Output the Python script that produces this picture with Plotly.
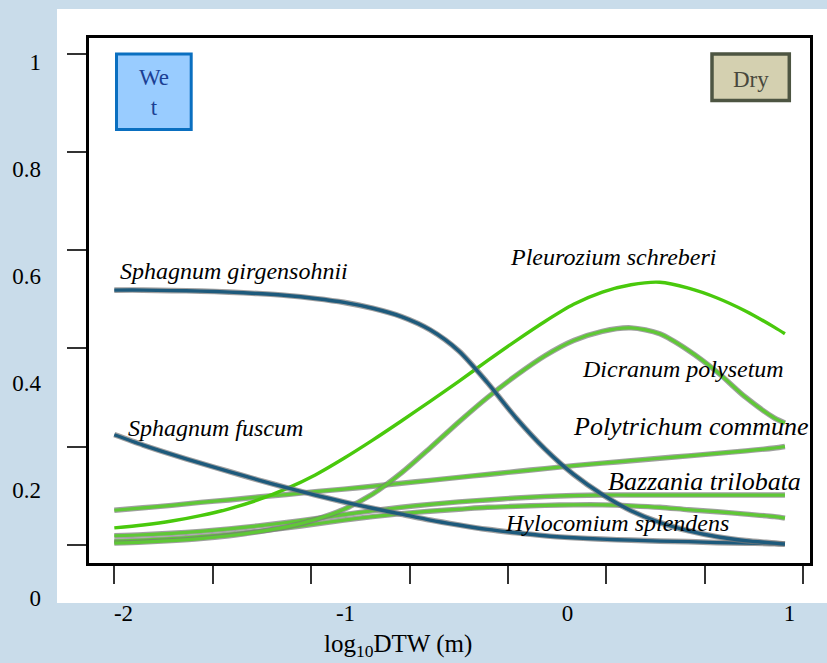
import plotly.graph_objects as go

# log10 depth-to-water-table sample positions (0.125 steps, last point at the curve end)
x_pts = [-2.0, -1.875, -1.75, -1.625, -1.5, -1.375, -1.25, -1.125, -1.0, -0.875, -0.75, -0.625,
         -0.5, -0.375, -0.25, -0.125, 0.0, 0.125, 0.25, 0.375, 0.5, 0.625, 0.75, 0.875, 0.92]

# fitted occurrence probabilities per species
sph_girgensohnii = [0.519, 0.519, 0.518, 0.517, 0.515, 0.512, 0.508, 0.502, 0.494, 0.482, 0.465, 0.438,
                    0.395, 0.330, 0.258, 0.195, 0.143, 0.102, 0.069, 0.045, 0.028, 0.016, 0.008, 0.003, 0.001]
sph_fuscum = [0.224, 0.203, 0.184, 0.166, 0.149, 0.132, 0.116, 0.101, 0.087, 0.074, 0.062, 0.050,
              0.040, 0.031, 0.024, 0.018, 0.014, 0.011, 0.009, 0.007, 0.006, 0.004, 0.003, 0.002, 0.001]
pleurozium = [0.034, 0.040, 0.048, 0.059, 0.073, 0.091, 0.114, 0.142, 0.176, 0.213, 0.252, 0.292,
              0.333, 0.375, 0.416, 0.455, 0.490, 0.515, 0.530, 0.535, 0.523, 0.503, 0.476, 0.443, 0.430]
dicranum = [0.003, 0.005, 0.008, 0.012, 0.018, 0.026, 0.036, 0.051, 0.072, 0.103, 0.146, 0.197,
            0.250, 0.300, 0.345, 0.385, 0.416, 0.435, 0.442, 0.430, 0.396, 0.352, 0.300, 0.258, 0.248]
polytrichum = [0.070, 0.075, 0.080, 0.086, 0.091, 0.097, 0.102, 0.108, 0.113, 0.119, 0.125, 0.131,
               0.137, 0.143, 0.149, 0.155, 0.161, 0.166, 0.171, 0.176, 0.181, 0.186, 0.191, 0.197, 0.200]
bazzania = [0.018, 0.020, 0.023, 0.027, 0.032, 0.038, 0.045, 0.053, 0.061, 0.069, 0.076, 0.082,
            0.087, 0.091, 0.095, 0.098, 0.100, 0.101, 0.101, 0.101, 0.101, 0.101, 0.101, 0.101, 0.101]
hylocomium = [0.007, 0.009, 0.012, 0.016, 0.021, 0.027, 0.034, 0.042, 0.050, 0.057, 0.063, 0.068,
              0.072, 0.076, 0.078, 0.080, 0.081, 0.081, 0.079, 0.076, 0.071, 0.067, 0.062, 0.057, 0.054]

y_ticks = [0, 0.2, 0.4, 0.6, 0.8, 1]
y_tick_text = ["0", "0.2", "0.4", "0.6", "0.8", "1"]
x_label_vals = [-2, -1, 0, 1]
x_label_text = ["-2", "-1", "0", "1"]
x_tick_marks = [-2 + k * 3 / 7 for k in range(8)]

W, H = 827, 663
SERIF = "Liberation Serif"
BLUE = "#1d5a7c"
GREEN = "#49c90c"
GREEN2 = "#5fc836"


def px(xp):
    return xp / W


def py(yp):
    return 1 - yp / H


fig = go.Figure()


def add_curve(vals, color, width, outline):
    if outline:
        fig.add_trace(go.Scatter(
            x=x_pts, y=vals, mode="lines",
            line=dict(color="rgba(120,120,120,0.7)", width=width + 2.2, shape="spline", smoothing=0.8),
            hoverinfo="skip", showlegend=False))
    fig.add_trace(go.Scatter(
        x=x_pts, y=vals, mode="lines",
        line=dict(color=color, width=width, shape="spline", smoothing=0.8),
        showlegend=False))


add_curve(polytrichum, GREEN2, 3.2, True)
add_curve(bazzania, GREEN2, 3.2, True)
add_curve(hylocomium, GREEN2, 3.2, True)
add_curve(dicranum, GREEN2, 3.2, True)
add_curve(pleurozium, GREEN, 3.4, False)
add_curve(sph_fuscum, BLUE, 3.4, True)
add_curve(sph_girgensohnii, BLUE, 3.4, True)

# carrier for the tick-label axes
fig.add_trace(go.Scatter(x=[None], y=[None], xaxis="x2", yaxis="y2", showlegend=False,
                         hoverinfo="skip"))

# species labels
labels = [
    ("Sphagnum girgensohnii", -1.984, 0.557, 24),
    ("Sphagnum fuscum", -1.948, 0.238, 24),
    ("Pleurozium schreberi", -0.286, 0.587, 24),
    ("Dicranum polysetum", 0.028, 0.358, 24),
    ("Polytrichum commune", -0.012, 0.240, 26),
    ("Bazzania trilobata", 0.141, 0.128, 26),
    ("Hylocomium splendens", -0.308, 0.044, 24),
]
for text, lx, ly, fs in labels:
    fig.add_annotation(x=lx, y=ly, xref="x", yref="y", text=f"<i>{text}</i>",
                       showarrow=False, xanchor="left", yanchor="middle",
                       font=dict(family=SERIF, size=fs, color="black"))

shapes = [
    # white figure panel
    dict(type="rect", xref="paper", yref="paper", x0=px(57), x1=1.0, y0=py(605.5), y1=py(7),
         fillcolor="white", line=dict(width=0), layer="below"),
    # Wet box
    dict(type="rect", xref="paper", yref="paper", x0=px(116.5), x1=px(191.2), y0=py(128.5), y1=py(52.5),
         fillcolor="#99ccff", line=dict(color="#0a6fc0", width=3)),
    # Dry box
    dict(type="rect", xref="paper", yref="paper", x0=px(712), x1=px(789.3), y0=py(99.3), y1=py(52.5),
         fillcolor="#d4d0b0", line=dict(color="#4d5542", width=3.5)),
]
fig.update_layout(shapes=shapes)

fig.add_annotation(x=px(154), y=py(91.5), xref="paper", yref="paper", text="We<br>t",
                   showarrow=False, xanchor="center", yanchor="middle",
                   font=dict(family=SERIF, size=23, color="#1c3f94"))
fig.add_annotation(x=px(751), y=py(78), xref="paper", yref="paper", text="Dry",
                   showarrow=False, xanchor="center", yanchor="middle",
                   font=dict(family=SERIF, size=23, color="#48483c"))
fig.add_annotation(x=px(398), y=py(648), xref="paper", yref="paper", text="log<sub>10</sub>DTW (m)",
                   showarrow=False, xanchor="center", yanchor="middle",
                   font=dict(family=SERIF, size=25, color="black"))

L, R, T, B = 89, 809.5, 36, 565.5
fig.update_layout(
    width=W, height=H,
    margin=dict(l=0, r=0, t=0, b=0),
    paper_bgcolor="#c9dcea",
    plot_bgcolor="rgba(0,0,0,0)",
    showlegend=False,
    font=dict(family=SERIF),
    xaxis=dict(domain=[px(L), px(R)], range=[-2.1102, 1.0270], showgrid=False, zeroline=False,
               showline=True, linecolor="black", linewidth=3, mirror=True,
               ticks="outside", ticklen=18, tickwidth=2, tickcolor="#333333",
               tickvals=x_tick_marks, showticklabels=False, fixedrange=True),
    yaxis=dict(domain=[py(B), py(T)], range=[-0.0381, 1.0338], showgrid=False, zeroline=False,
               showline=True, linecolor="black", linewidth=3, mirror=True,
               ticks="outside", ticklen=19, tickwidth=2, tickcolor="#333333",
               tickvals=y_ticks, showticklabels=False, fixedrange=True),
    xaxis2=dict(domain=[px(L), px(R)], range=[-2.1554, 1.0901], anchor="free", position=py(567),
                showgrid=False, zeroline=False, showline=False,
                ticks="outside", ticklen=28, tickcolor="rgba(0,0,0,0)",
                tickvals=x_label_vals, ticktext=x_label_text,
                tickfont=dict(family=SERIF, size=23, color="black")),
    yaxis2=dict(domain=[py(610), py(50)], range=[-0.01852, 1.01852], anchor="free", position=px(41),
                showgrid=False, zeroline=False, showline=False, ticks="",
                tickvals=y_ticks, ticktext=y_tick_text,
                tickfont=dict(family=SERIF, size=23, color="black")),
)

fig.write_html("out.html")
